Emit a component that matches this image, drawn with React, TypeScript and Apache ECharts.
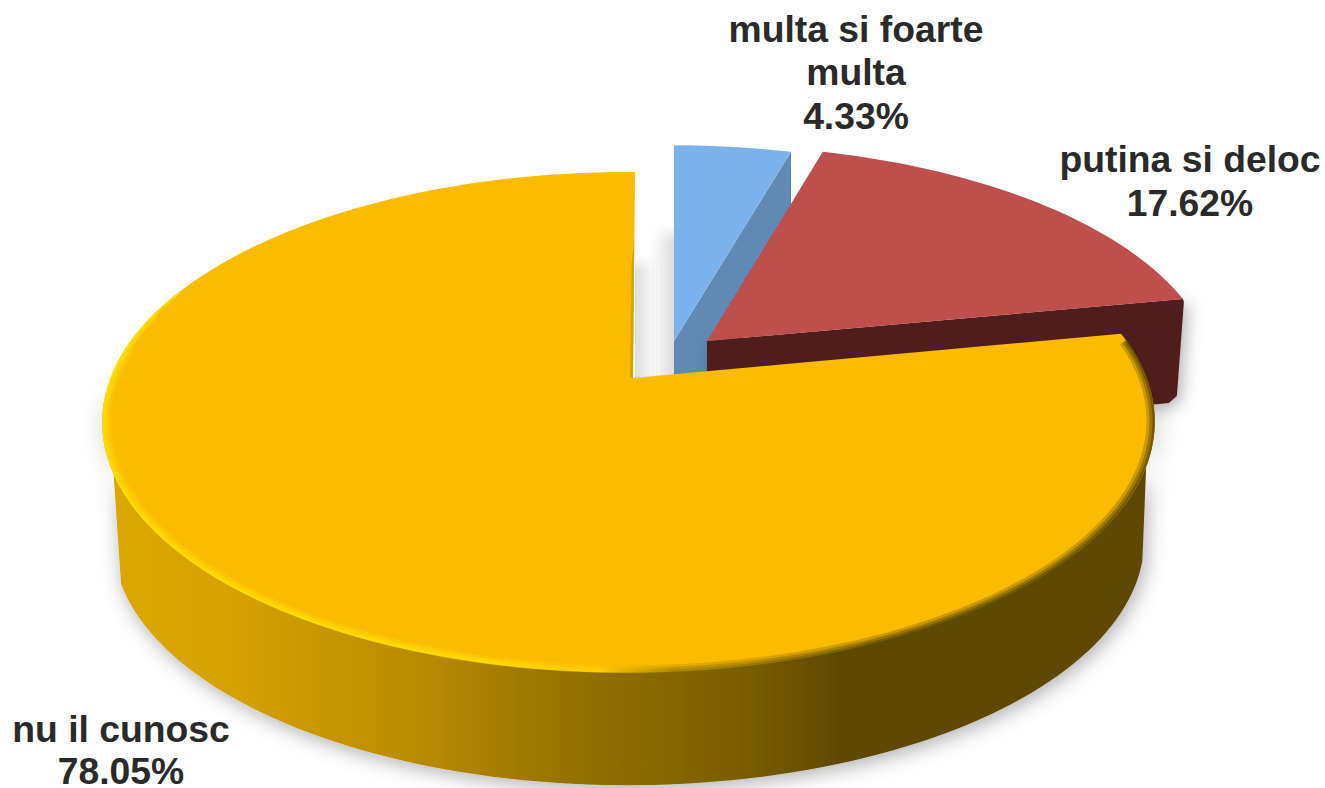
import React, { useEffect, useRef } from "react";
import * as echarts from "echarts";

const categories = ["multa si foarte\nmulta", "putina si deloc", "nu il cunosc"];
const values = [4.33, 17.62, 78.05];

const W = 1325;
const H = 788;
const CX = 633, CY = 378;
const B = 518, A = 242.3, K = 0.176, M = 0.0085;
const DEPTH = 107;

type Pt = number[];
const rad = (d: number) => (d * Math.PI) / 180;

// perspective projection of a disc point at clockwise angle deg from 12 o'clock, radius factor r
function proj(deg: number, r = 1): Pt {
  const u = Math.sin(rad(deg)) * r;
  const v = Math.cos(rad(deg)) * r;
  const d = 1 + K * v + M * u;
  return [(B * u) / d, (-A * v) / d];
}
function arc(a0: number, a1: number, ox: number, oy: number, sx = 1, sy = sx, r = 1): Pt[] {
  const n = Math.max(2, Math.ceil(Math.abs(a1 - a0) / 1.5));
  const out: Pt[] = [];
  for (let i = 0; i <= n; i++) {
    const p = proj(a0 + ((a1 - a0) * i) / n, r);
    out.push([ox + p[0] * sx, oy + p[1] * sy]);
  }
  return out;
}
const hGrad = (stops: [number, string][]) => ({
  type: "linear", x: 0, y: 0, x2: 1, y2: 0,
  colorStops: stops.map(([offset, color]) => ({ offset, color })),
});

const sideGradient = hGrad([
  [0, "#dca700"], [0.12, "#d6a200"], [0.3, "#b98c00"], [0.45, "#947000"],
  [0.6, "#7c5f00"], [0.7, "#5f4a00"], [1, "#5f4a00"],
]);
const rimGradient = hGrad([
  [0, "#ffe000"], [0.36, "#ffe000"], [0.47, "#ffd000"], [0.54, "#a88300"], [0.75, "#5f4a00"], [1, "#5f4a00"],
]);

function softBand(x: number, w: number, top: number, bottom: number, left: boolean) {
  const g = left
    ? hGrad([[0, "rgba(0,0,0,0.024)"], [1, "rgba(0,0,0,0)"]])
    : hGrad([[0, "rgba(0,0,0,0)"], [1, "rgba(0,0,0,0.024)"]]);
  return [0, 3, 6, 9, 12, 15].map((o) => ({
    type: "rect",
    shape: { x, y: top + o, width: w, height: bottom - top - o },
    style: { fill: g },
  }));
}

const labelStyle = {
  fill: "#2a2a2a",
  font: 'bold 37.3px "Liberation Sans", Arial, sans-serif',
  lineHeight: 43.5,
  align: "center",
  verticalAlign: "middle",
};

function renderSlice(params: any, api: any) {
  const i = params.dataIndex;
  const total = values.reduce((a, b) => a + b, 0);
  const start = (values.slice(0, i).reduce((a, b) => a + b, 0) / total) * 360;
  const end = start + (api.value(0) / total) * 360;
  const children: any[] = [];
  const pct = `${values[i].toFixed(2)}%`;

  if (i === 0) {
    const ox = 674, oy = 341;
    children.push(...softBand(635, 24, 256, 378, true));
    children.push(...softBand(650, 24, 226, 378, false));
    const rimTop = arc(start, end, ox, oy, 0.985, 0.95);
    const e = rimTop[rimTop.length - 1];
    children.push({
      type: "polygon",
      shape: { points: [[ox, oy], e, [e[0], e[1] + DEPTH], [ox, oy + DEPTH]] },
      style: { fill: "#5f8ab6" },
    });
    children.push({
      type: "polygon",
      shape: { points: [[ox, oy], ...rimTop] },
      style: { fill: "#7cb2ea" },
    });
    children.push({
      type: "text", x: 856, y: 72,
      style: { text: `${categories[i]}\n${pct}`, ...labelStyle },
    });
  } else if (i === 1) {
    const ox = 707, oy = 341;
    const rimTop = arc(start, end, ox, oy, 0.975, 0.95);
    const e = rimTop[rimTop.length - 1];
    children.push({
      type: "polygon",
      shape: { points: [[ox, oy], e, [e[0] + 1, e[1] + 3], [e[0] - 6, e[1] + 97], [e[0] - 14, e[1] + 104], [ox, oy + DEPTH]] },
      style: {
        fill: "#511e1e",
        shadowColor: "rgba(0,0,0,0.3)", shadowBlur: 16, shadowOffsetX: 4, shadowOffsetY: 4,
      },
    });
    children.push({
      type: "polygon",
      shape: { points: [[ox, oy], ...rimTop] },
      style: { fill: "#be4f4c" },
    });
    children.push({
      type: "text", x: 1190, y: 181,
      style: { text: `${categories[i]}\n${pct}`, ...labelStyle },
    });
  } else {
    const yb = CY + DEPTH + 12;
    const lowerBottom = arc(105, 250, CX, yb, 0.98);
    children.push({
      type: "polygon",
      shape: { points: [...arc(92, 268, CX, CY), ...lowerBottom.reverse()] },
      style: {
        fill: sideGradient,
        shadowColor: "rgba(0,0,0,0.32)", shadowBlur: 20, shadowOffsetX: 3, shadowOffsetY: 4,
      },
    });
    const top = arc(start, end, CX, CY);
    const tip = top[top.length - 1];
    tip[0] += 2;
    children.push({
      type: "polygon",
      shape: { points: [[CX, CY], ...top] },
      style: { fill: "#fbbc00" },
    });
    // thin inner wall next to the gap
    children.push({
      type: "polygon",
      shape: { points: [[CX + 1.2, 240], [CX, CY], [CX - 3, CY - 1], [CX - 1.5, 263]] },
      style: { fill: "#d9a400" },
    });
    // soft bevel along the outer edge of the top face
    [
      { lw: 8, op: 0.3, r: 0.992, a: 278 },
      { lw: 5, op: 0.45, r: 0.995, a: 286 },
      { lw: 2.5, op: 0.65, r: 0.998, a: 292 },
    ].forEach((l) => {
      children.push({
        type: "polyline",
        shape: { points: arc(start + 2, l.a, CX, CY, 1, 1, l.r) },
        style: { stroke: rimGradient, lineWidth: l.lw, fill: "none", opacity: l.op },
      });
    });
    children.push({
      type: "text", x: 121, y: 729,
      style: { text: categories[i], ...labelStyle },
    });
    children.push({
      type: "text", x: 121, y: 771,
      style: { text: pct, ...labelStyle, lineHeight: 32 },
    });
  }
  return { type: "group", children };
}

export default function App() {
  const ref = useRef<HTMLDivElement>(null);
  useEffect(() => {
    document.body.style.margin = "0";
    document.body.style.background = "#fff";
    const chart = echarts.init(ref.current!, undefined, { renderer: "svg" });
    chart.setOption({
      animation: false,
      backgroundColor: "#ffffff",
      series: [
        {
          type: "custom",
          coordinateSystem: "none",
          renderItem: renderSlice,
          data: values.map((v, i) => ({ name: categories[i], value: [v] })),
          clip: false,
          silent: true,
        },
      ],
    });
    return () => chart.dispose();
  }, []);
  return <div ref={ref} style={{ width: W, height: H, overflow: "hidden" }} />;
}
